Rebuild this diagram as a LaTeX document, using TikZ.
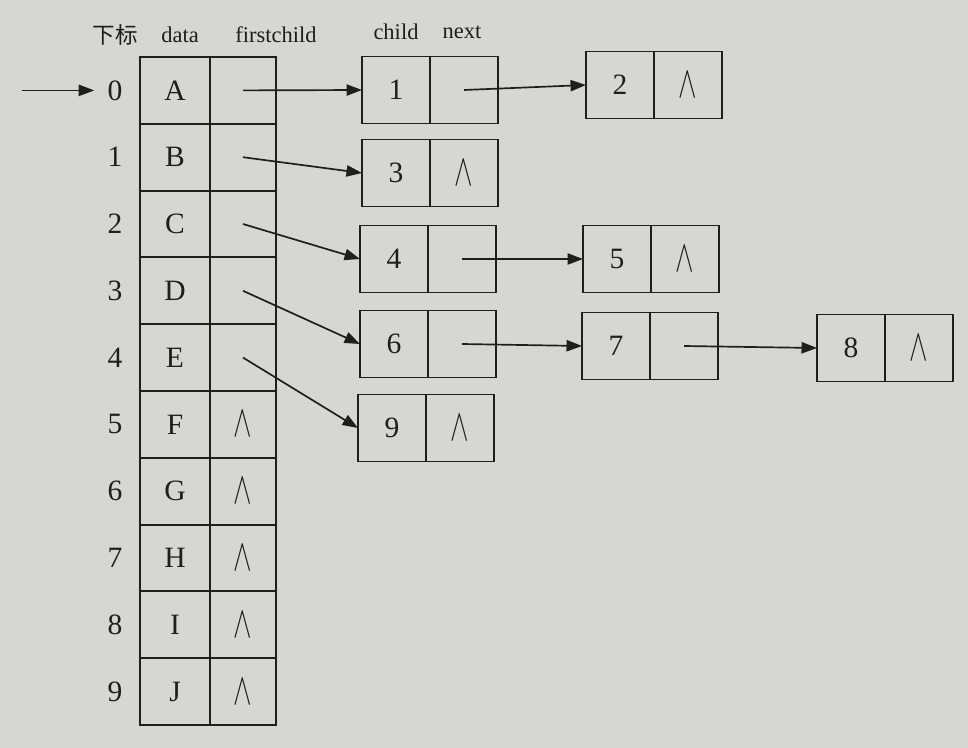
\documentclass[tikz,border=0pt]{standalone}
\usepackage{fontspec}
\usepackage{graphicx}
\setmainfont{Liberation Serif}
\newfontfamily\cjk{Noto Sans CJK SC}
\usetikzlibrary{arrows.meta}
\definecolor{paper}{RGB}{214,214,210}
\definecolor{ink}{RGB}{30,30,30}
\newcommand{\nullsym}{\scalebox{0.95}[1.55]{$\wedge$}}
\tikzset{
	cell/.style={draw=ink, line width=1.2pt, outer sep=0pt, minimum width=1.7cm, minimum height=1.68cm, inner sep=0pt, text=ink, font=\fontsize{21}{25}\selectfont},
	idx/.style={text=ink, font=\fontsize{21}{25}\selectfont},
	head/.style={text=ink, font=\fontsize{16}{19}\selectfont},
	ptr/.style={draw=ink, line width=1.2pt, -{Triangle[length=11pt,width=8pt]}}
}
\begin{document}
\begin{tikzpicture}[x=0.025cm,y=-0.025cm]
		\fill[paper] (0,0) rectangle (968,748);
		\useasboundingbox (0,0) rectangle (968,748);
		\node[head] (hidx) at (115,35) {\cjk 下标};
		\node[head] (hdata) at (180,35) {data};
		\node[head] (hfc) at (276,35) {firstchild};
		\node[head] (hchild) at (396,32) {child};
		\node[head] (hnext) at (462,32) {next};
		\foreach \i/\d/\f in {0/A/,1/B/,2/C/,3/D/,4/E/,5/F/\nullsym,6/G/\nullsym,7/H/\nullsym,8/I/\nullsym,9/J/\nullsym} {
			\node[idx] (i\i) at (115,90.4+66.8*\i) {\i};
			\node[cell, minimum width=1.75cm] (d\i) at (175,90.4+66.8*\i) {\d};
			\node[cell, minimum width=1.65cm] (f\i) at (243,90.4+66.8*\i) {\f};
		}
		\foreach \n/\x/\y/\nx in {1/396/90/, 2/620/85/\nullsym, 3/396/173/\nullsym, 4/394/259/, 5/617/259/\nullsym, 6/394/344/, 7/616/346/, 8/851/348/\nullsym, 9/392/428/\nullsym} {
			\node[cell] (c\n) at (\x,\y) {\n};
			\node[cell, anchor=west] (n\n) at (c\n.east) {\nx};
		}
		\coordinate (entry) at (22,90.4);
		\draw[ptr, shorten >=6pt] (entry) -- (i0.west);
		\draw[ptr] (f0.center) -- (c1.west);
		\draw[ptr] (f1.center) -- (c3.west);
		\draw[ptr] (f2.center) -- (c4.west);
		\draw[ptr] (f3.center) -- (c6.west);
		\draw[ptr] (f4.center) -- (c9.west);
		\draw[ptr] (n1.center) -- (c2.west);
		\draw[ptr] (n4.center) -- (c5.west);
		\draw[ptr] (n6.center) -- (c7.west);
		\draw[ptr] (n7.center) -- (c8.west);
	\end{tikzpicture}
\end{document}
